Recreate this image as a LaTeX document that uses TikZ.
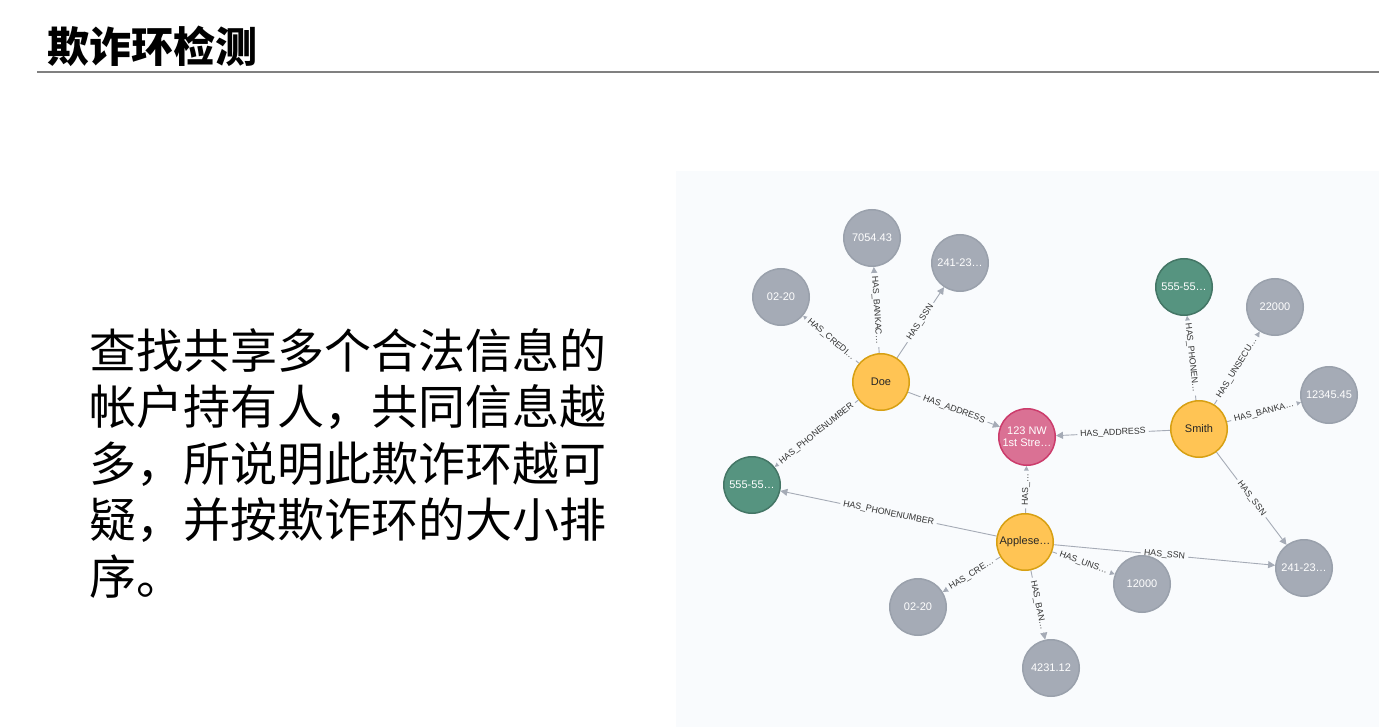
\documentclass[tikz,border=0pt]{standalone}
\usepackage{fontspec}
\setmainfont{Liberation Sans}
\newfontfamily\cjk{Noto Sans CJK SC}
\usetikzlibrary{arrows.meta,backgrounds}
\definecolor{panelbg}{HTML}{F9FBFD}
\definecolor{greyfill}{HTML}{A5ABB6}
\definecolor{greydraw}{HTML}{9AA1AC}
\definecolor{yellowfill}{HTML}{FFC454}
\definecolor{yellowdraw}{HTML}{D7A013}
\definecolor{pinkfill}{HTML}{DA7194}
\definecolor{pinkdraw}{HTML}{CC3C6C}
\definecolor{greenfill}{HTML}{569480}
\definecolor{greendraw}{HTML}{447666}
\definecolor{relline}{HTML}{A5ABB6}
\tikzset{
	ent/.style={circle, minimum size=56.5pt, inner sep=0pt, line width=1.5pt, font=\fontsize{11}{12}\selectfont},
	val/.style={ent, fill=greyfill, draw=greydraw, text=white},
	person/.style={ent, fill=yellowfill, draw=yellowdraw, text=black!85},
	phone/.style={ent, fill=greenfill, draw=greendraw, text=white},
	addr/.style={ent, fill=pinkfill, draw=pinkdraw, text=white, align=center},
	rel/.style={draw=relline, line width=0.9pt, -{Triangle[length=7pt,width=7pt]}},
	rellabel/.style={sloped, fill=panelbg, inner xsep=3pt, inner ysep=0.5pt, font=\fontsize{8.8}{10}\selectfont, text=black!80},
	body/.style={anchor=base west, inner sep=0pt, font=\cjk\fontsize{47}{56}\selectfont}
}
\begin{document}
\begin{tikzpicture}[x=1pt, y=-1pt]
				\useasboundingbox (0,0) rectangle (1379,727);
				\node[anchor=base west, inner sep=0pt, font=\cjk\bfseries\fontsize{42}{42}\selectfont] (title) at (47,63) {欺诈环检测};
				\draw[color=black!50, line width=1.3pt] (37,72) -- (1379,72);
				\foreach \t [count=\i] in {查找共享多个合法信息的, 帐户持有人，共同信息越, 多，所说明此欺诈环越可, 疑，并按欺诈环的大小排, 序。}
					\node[body] (line\i) at (89, {368+56.5*(\i-1)}) {\t};
				% graph
				\node[person] (doe) at (881,382) {Doe};
				\node[person] (smith) at (1199,429) {Smith};
				\node[person] (apple) at (1025,542) {Applese…};
				\node[addr] (addr) at (1027,437) {123 NW\\1st Stre…};
				\node[phone] (phoneA) at (752,485) {555-55…};
				\node[phone] (phoneB) at (1184,287) {555-55…};
				\node[val] (bankA) at (872,238) {7054.43};
				\node[val] (ssnA) at (960,263) {241-23…};
				\node[val] (credA) at (781,297) {02-20};
				\node[val] (unsecB) at (1275,307) {22000};
				\node[val] (bankB) at (1329,395) {12345.45};
				\node[val] (ssnC) at (1304,568) {241-23…};
				\node[val] (credC) at (918,607) {02-20};
				\node[val] (bankC) at (1051,668) {4231.12};
				\node[val] (unsecC) at (1142,584) {12000};
				\begin{pgfonlayer}{background}
					\fill[panelbg] (676,171) rectangle (1379,727);
					\foreach \s/\e/\l in {doe/credA/HAS\_CREDI…, doe/bankA/HAS\_BANKAC…, doe/ssnA/HAS\_SSN,
						doe/addr/HAS\_ADDRESS, doe/phoneA/HAS\_PHONENUMBER,
						smith/addr/HAS\_ADDRESS, smith/phoneB/HAS\_PHONEN…, smith/unsecB/HAS\_UNSECU…,
						smith/bankB/HAS\_BANKA…, smith/ssnC/HAS\_SSN,
						apple/addr/HAS\_…, apple/phoneA/HAS\_PHONENUMBER, apple/credC/HAS\_CRE…,
						apple/bankC/HAS\_BAN…, apple/unsecC/HAS\_UNS…, apple/ssnC/HAS\_SSN}
						\draw[rel] (\s) -- node[rellabel] {\l} (\e);
				\end{pgfonlayer}
			\end{tikzpicture}
\end{document}
